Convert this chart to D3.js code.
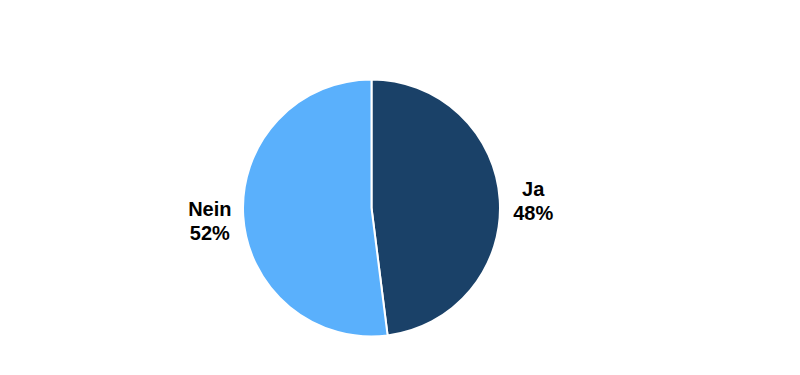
<!DOCTYPE html>
<html lang="de">
<head>
<meta charset="UTF-8">
<title>Ja / Nein</title>
<script src="https://d3js.org/d3.v7.min.js"></script>
<style>
  body { margin: 0; background: #fff; font-family: "Liberation Sans", Arial, sans-serif; }
  .label { font-size: 20px; font-weight: bold; fill: #000; }
</style>
</head>
<body>
<div id="chart"></div>
<script>
const categories = ["Ja", "Nein"];
const shares = [48, 52];
const colors = ["#1a4168", "#5ab0fc"];

const width = 800, height = 375;
const cx = 371.5, cy = 208, radius = 128.5, labelRadius = 162;

const svg = d3.select("#chart").append("svg")
    .attr("width", width)
    .attr("height", height);

const g = svg.append("g").attr("transform", `translate(${cx},${cy})`);

const data = categories.map((c, i) => ({ name: c, value: shares[i], color: colors[i] }));

const pie = d3.pie().value(d => d.value).sort(null);
const arc = d3.arc().innerRadius(0).outerRadius(radius);
const labelArc = d3.arc().innerRadius(labelRadius).outerRadius(labelRadius);

const arcs = pie(data);

g.selectAll("path")
    .data(arcs)
    .enter().append("path")
    .attr("d", arc)
    .attr("fill", d => d.data.color)
    .attr("stroke", "#fff")
    .attr("stroke-width", 2);

const labels = g.selectAll("text.label")
    .data(arcs)
    .enter().append("text")
    .attr("class", "label")
    .attr("text-anchor", "middle")
    .attr("transform", d => {
        const [x, y] = labelArc.centroid(d);
        return `translate(${x},${y})`;
    });

labels.append("tspan")
    .attr("x", 0)
    .attr("dy", "-0.1em")
    .text(d => d.data.name);
labels.append("tspan")
    .attr("x", 0)
    .attr("dy", "1.2em")
    .text(d => d.data.value + "%");
</script>
</body>
</html>
